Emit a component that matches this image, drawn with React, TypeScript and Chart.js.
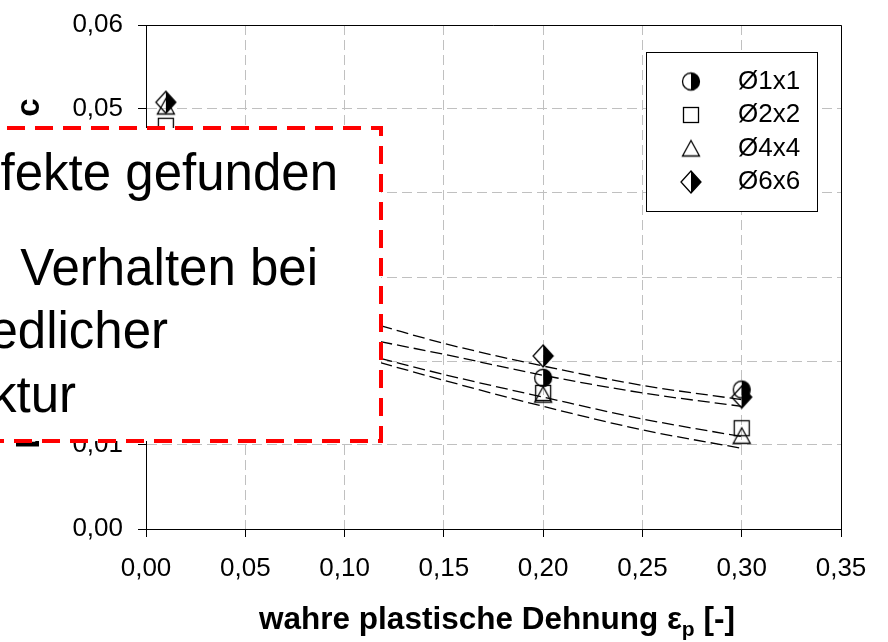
import React, { useEffect, useRef } from "react";
import { Chart, registerables } from "chart.js";

Chart.register(...registerables);

// ---------- data ----------
const strainX = [0.01, 0.2, 0.3];
const seriesNames = ["Ø1x1", "Ø2x2", "Ø4x4", "Ø6x6"];
const values1x1 = [0.046, 0.018, 0.0166];
const values2x2 = [0.048, 0.0162, 0.012];
const values4x4 = [0.0503, 0.016, 0.0111];
const values6x6 = [0.0508, 0.0206, 0.0157];

const trendX = [0.118, 0.15, 0.2, 0.25, 0.3];
const trend6x6 = [0.0242, 0.0221, 0.0194, 0.0171, 0.0154];
const trend1x1 = [0.0223, 0.0208, 0.0183, 0.0162, 0.0146];
const trend2x2 = [0.0203, 0.0184, 0.0157, 0.0131, 0.011];
const trend4x4 = [0.0198, 0.0177, 0.0146, 0.0118, 0.0096];

const xTitleMain = "wahre plastische Dehnung ε";
const xTitleSub = "p";
const xTitleEnd = " [-]";
const yTitle = "Defektvolumenanteil c";
const overlayLine1 = "Keine Defekte gefunden";
const overlayLine2a = "Ähnliches";
const overlayLine2b = "Verhalten bei";
const overlayLine3 = "unterschiedlicher";
const overlayLine4 = "Mikrostruktur";

const FONT = '"Liberation Sans", Arial, Helvetica, sans-serif';

function makeMarker(kind: string): HTMLCanvasElement {
  const c = document.createElement("canvas");
  c.width = 26;
  c.height = 26;
  const g = c.getContext("2d")!;
  g.lineWidth = 1.3;
  g.strokeStyle = "#000";
  g.fillStyle = "#000";
  const cx = 13,
    cy = 13;
  if (kind === "circle") {
    g.beginPath();
    g.arc(cx, cy, 8.5, -Math.PI / 2, Math.PI / 2);
    g.closePath();
    g.fill();
    g.beginPath();
    g.arc(cx, cy, 8.5, 0, Math.PI * 2);
    g.stroke();
  } else if (kind === "square") {
    g.strokeRect(cx - 7.5, cy - 7.5, 15, 15);
  } else if (kind === "triangle") {
    g.beginPath();
    g.moveTo(cx, cy - 8);
    g.lineTo(cx + 8.5, cy + 7.5);
    g.lineTo(cx - 8.5, cy + 7.5);
    g.closePath();
    g.stroke();
  } else {
    g.beginPath();
    g.moveTo(cx, cy - 11);
    g.lineTo(cx + 10, cy);
    g.lineTo(cx, cy + 11);
    g.closePath();
    g.fill();
    g.beginPath();
    g.moveTo(cx, cy - 11);
    g.lineTo(cx + 10, cy);
    g.lineTo(cx, cy + 11);
    g.lineTo(cx - 10, cy);
    g.closePath();
    g.stroke();
  }
  return c;
}

const fmt = (v: number) => v.toFixed(2).replace(".", ",");

export default function App() {
  const ref = useRef<HTMLCanvasElement | null>(null);

  useEffect(() => {
    if (!ref.current) return;
    const markers = {
      circle: makeMarker("circle"),
      square: makeMarker("square"),
      triangle: makeMarker("triangle"),
      diamond: makeMarker("diamond"),
    };
    const legendMarkers = [markers.circle, markers.square, markers.triangle, markers.diamond];

    const pts = (xs: number[], ys: number[]) => xs.map((x, i) => ({ x, y: ys[i] }));

    const scatter = (label: string, ys: number[], style: HTMLCanvasElement) => ({
      label,
      data: pts(strainX, ys),
      pointStyle: style,
      pointRadius: 10,
      showLine: false,
    });
    const trend = (ys: number[]) => ({
      label: "trend",
      data: pts(trendX, ys),
      showLine: true,
      pointRadius: 0,
      borderColor: "#000",
      borderWidth: 1.3,
      borderDash: [12, 5],
      cubicInterpolationMode: "monotone",
      fill: false,
    });

    const overlayPlugin = {
      id: "extras",
      afterDraw(chart: any) {
        const ctx = chart.ctx as CanvasRenderingContext2D;
        const { left, right, top, bottom } = chart.chartArea;
        ctx.save();
        // frame top / right
        ctx.strokeStyle = "#000";
        ctx.lineWidth = 1;
        ctx.setLineDash([]);
        ctx.beginPath();
        ctx.moveTo(left, Math.round(top) + 0.5);
        ctx.lineTo(Math.round(right) + 0.5, Math.round(top) + 0.5);
        ctx.lineTo(Math.round(right) + 0.5, bottom);
        ctx.stroke();

        // legend
        const lx = 646, ly = 52, lw = 171, lh = 159;
        ctx.fillStyle = "#fff";
        ctx.fillRect(lx, ly, lw, lh);
        ctx.strokeRect(lx + 0.5, ly + 0.5, lw, lh);
        ctx.fillStyle = "#000";
        ctx.font = `26px ${FONT}`;
        ctx.textBaseline = "middle";
        ctx.textAlign = "left";
        const rows = [81.5, 115, 148.5, 182];
        seriesNames.forEach((n, i) => {
          ctx.drawImage(legendMarkers[i], 691 - 13, rows[i] - 13);
          ctx.fillText(n, 738, rows[i]);
        });

        // x title with subscript
        const big = `bold 31.5px ${FONT}`;
        const small = `bold 21px ${FONT}`;
        ctx.font = big;
        ctx.textBaseline = "alphabetic";
        const w1 = ctx.measureText(xTitleMain).width;
        const w3 = ctx.measureText(xTitleEnd).width;
        ctx.font = small;
        const w2 = ctx.measureText(xTitleSub).width;
        const total = w1 + w2 + w3;
        let sx = 497 - total / 2;
        const by = 629;
        ctx.font = big;
        ctx.fillText(xTitleMain, sx, by);
        sx += w1;
        ctx.font = small;
        ctx.fillText(xTitleSub, sx, by + 7);
        sx += w2;
        ctx.font = big;
        ctx.fillText(xTitleEnd, sx, by);

        // y title rotated
        ctx.save();
        ctx.translate(39, 273.5);
        ctx.rotate(-Math.PI / 2);
        ctx.textAlign = "center";
        ctx.font = `bold 33px ${FONT}`;
        ctx.fillText(yTitle, 0, 0);
        ctx.restore();

        // overlay box
        ctx.fillStyle = "#fff";
        ctx.fillRect(-30, 128, 411, 313);
        ctx.strokeStyle = "#ff0000";
        ctx.lineWidth = 4;
        ctx.setLineDash([18, 10]);
        ctx.beginPath();
        ctx.moveTo(-21, 128);
        ctx.lineTo(381, 128);
        ctx.lineTo(381, 441);
        ctx.lineTo(-21, 441);
        ctx.stroke();
        ctx.setLineDash([]);

        ctx.fillStyle = "#000";
        ctx.font = `51px ${FONT}`;
        ctx.textAlign = "right";
        ctx.textBaseline = "alphabetic";
        ctx.fillText(overlayLine1, 338, 190);
        ctx.fillText(overlayLine2a, -2, 285);
        ctx.fillText(overlayLine2b, 318, 285);
        ctx.fillText(overlayLine3, 168, 348);
        ctx.fillText(overlayLine4, 76, 412);
        ctx.restore();
      },
    };

    const chart = new Chart(ref.current, {
      type: "scatter",
      data: {
        datasets: [
          scatter(seriesNames[3], values6x6, markers.diamond),
          scatter(seriesNames[0], values1x1, markers.circle),
          scatter(seriesNames[2], values4x4, markers.triangle),
          scatter(seriesNames[1], values2x2, markers.square),
          trend(trend6x6),
          trend(trend1x1),
          trend(trend2x2),
          trend(trend4x4),
        ] as any,
      },
      options: {
        animation: false,
        responsive: false,
        devicePixelRatio: 1,
        layout: { padding: { left: 0, right: 47, top: 25, bottom: 53 } },
        plugins: { legend: { display: false }, tooltip: { enabled: false } },
        scales: {
          x: {
            type: "linear",
            min: 0,
            max: 0.35,
            ticks: {
              stepSize: 0.05,
              color: "#000",
              font: { family: FONT, size: 26 },
              padding: 16,
              callback: (v: any) => fmt(Number(v)),
              maxRotation: 0,
            },
            grid: { color: "#c0c0c0", lineWidth: 1, tickLength: 8, tickColor: "#000" },
            border: { display: true, color: "#000", width: 1, dash: [10, 5] },
            afterFit: (s: any) => {
              s.height = 60;
              s.paddingLeft = 0;
              s.paddingRight = 0;
            },
          },
          y: {
            type: "linear",
            min: 0,
            max: 0.06,
            ticks: {
              stepSize: 0.01,
              color: "#000",
              font: { family: FONT, size: 26 },
              padding: 15,
              callback: (v: any) => fmt(Number(v)),
            },
            grid: { color: "#c0c0c0", lineWidth: 1, tickLength: 8, tickColor: "#000" },
            border: { display: true, color: "#000", width: 1, dash: [10, 5] },
            afterFit: (s: any) => {
              s.width = 146;
              s.paddingTop = 0;
              s.paddingBottom = 0;
            },
          },
        },
      } as any,
      plugins: [overlayPlugin],
    });
    return () => chart.destroy();
  }, []);

  return (
    <div style={{ position: "absolute", left: 0, top: 0, width: 888, height: 642, background: "#fff" }}>
      <canvas ref={ref} width={888} height={642} style={{ display: "block" }} />
    </div>
  );
}
